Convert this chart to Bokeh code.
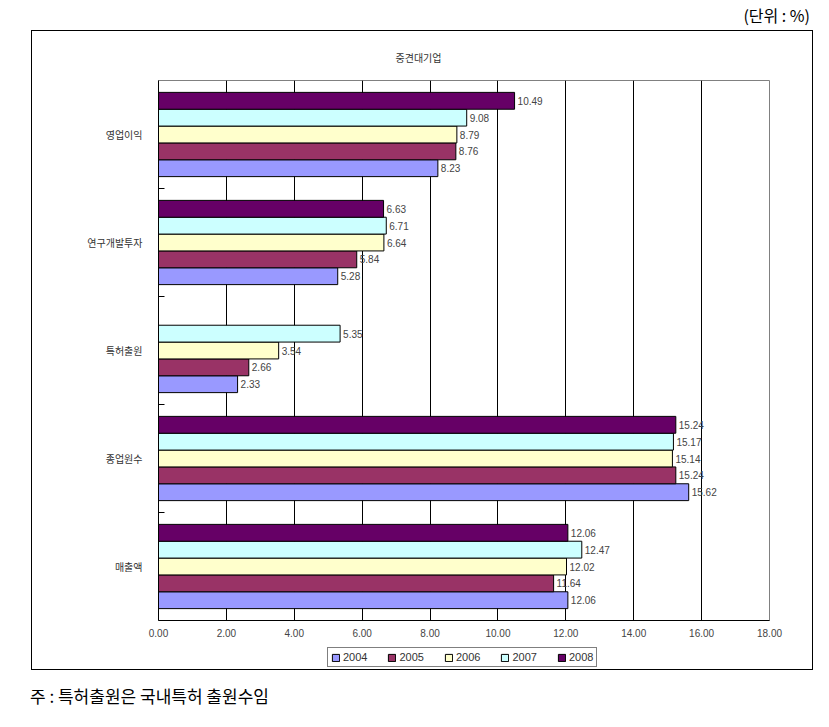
from bokeh.plotting import figure
from bokeh.models import (ColumnDataSource, Range1d, FixedTicker, NumeralTickFormatter,
                          Legend, LegendItem, Div, Column)
from bokeh.transform import dodge
from bokeh.core.properties import value
from bokeh.embed import file_html
from bokeh.resources import INLINE
import math

# ---- data (categories listed top to bottom as in the chart) ----
categories = ["영업이익", "연구개발투자", "특허출원", "종업원수", "매출액"]
years = ["2004", "2005", "2006", "2007", "2008"]
v2004 = [8.23, 5.28, 2.33, 15.62, 12.06]
v2005 = [8.76, 5.84, 2.66, 15.24, 11.64]
v2006 = [8.79, 6.64, 3.54, 15.14, 12.02]
v2007 = [9.08, 6.71, 5.35, 15.17, 12.47]
v2008 = [10.49, 6.63, float("nan"), 15.24, 12.06]
x_ticks = [0, 2, 4, 6, 8, 10, 12, 14, 16, 18]
title_text = "중견대기업"
unit_text = "(단위 : %)"
note_text = "주 : 특허출원은 국내특허 출원수임"

series = [v2004, v2005, v2006, v2007, v2008]
colors = ["#9999FF", "#993366", "#FFFFCC", "#CCFFFF", "#660066"]
bar_h = 0.156
offsets = [-2 * bar_h, -bar_h, 0.0, bar_h, 2 * bar_h]

n = len(categories)
ypos = [n - 1 - i for i in range(n)]  # top category gets highest position

NUMFONT = "Liberation Sans"
KFONT = "Noto Sans CJK KR"

p = figure(frame_width=611, frame_height=540, output_backend="svg", toolbar_location=None,
           x_range=Range1d(0, 18), y_range=Range1d(-0.5, n - 0.5),
           min_border_left=126, min_border_right=43, min_border_top=49, min_border_bottom=25,
           title=title_text)
p.outline_line_color = "#808080"
p.background_fill_color = "white"
p.border_fill_color = "white"
p.title.align = "left"
p.title.offset = 237
p.title.text_font = KFONT
p.title.text_font_size = "10px"
p.title.text_font_style = "normal"
p.title.text_color = "#333333"
p.title.standoff = 31

# legend-only strip below the chart; same sources and glyph styles, data kept out of view
lg = figure(width=780, height=24, output_backend="svg", toolbar_location=None,
            x_range=Range1d(0, 18), y_range=Range1d(100, 101), min_border=0)
lg.axis.visible = False
lg.grid.visible = False
lg.outline_line_color = None
lg.border_fill_color = "white"
lg.background_fill_color = "white"

items = []
for yr, vals, col, off in zip(years, series, colors, offsets):
    ys = [y for y, v in zip(ypos, vals) if not math.isnan(v)]
    vs = [v for v in vals if not math.isnan(v)]
    src = ColumnDataSource(dict(y=ys, v=vs, lab=["%.2f" % v for v in vs]))
    p.hbar(y=dodge("y", off), left=0, right="v", height=bar_h, source=src,
           fill_color=col, line_color="black", line_width=1)
    p.text(x="v", y=dodge("y", off), text="lab", source=src, x_offset=3,
           text_baseline="middle", text_align="left", text_font_size="10px",
           text_font=value(NUMFONT), text_color="#444444")
    r = lg.hbar(y=dodge("y", off), left=0, right="v", height=bar_h, source=src,
                fill_color=col, line_color="black", line_width=1)
    items.append(LegendItem(label=yr, renderers=[r]))

# axes
p.xaxis.ticker = FixedTicker(ticks=x_ticks)
p.xaxis.formatter = NumeralTickFormatter(format="0.00")
p.xaxis.major_tick_out = 0
p.xaxis.major_tick_in = 0
p.xaxis.minor_tick_out = 0
p.xaxis.minor_tick_in = 0
p.xaxis.axis_line_color = "black"
p.xaxis.major_label_text_font = NUMFONT
p.xaxis.major_label_text_font_size = "10px"
p.xaxis.major_label_text_color = "#444444"
p.xaxis.major_label_standoff = 8

p.yaxis.ticker = FixedTicker(ticks=ypos, minor_ticks=[i + 0.5 for i in range(n - 1)])
p.yaxis.major_label_overrides = {y: c for y, c in zip(ypos, categories)}
p.yaxis.major_tick_out = 0
p.yaxis.major_tick_in = 0
p.yaxis.minor_tick_in = 6
p.yaxis.minor_tick_out = 0
p.yaxis.minor_tick_line_color = "black"
p.yaxis.axis_line_color = "black"
p.yaxis.major_label_text_font = KFONT
p.yaxis.major_label_text_font_size = "10px"
p.yaxis.major_label_text_color = "#333333"
p.yaxis.major_label_standoff = 16

p.xgrid.ticker = FixedTicker(ticks=x_ticks[1:-1])
p.xgrid.grid_line_color = "black"
p.xgrid.grid_line_width = 1
p.ygrid.grid_line_color = None

legend = Legend(items=items, orientation="horizontal", location=(169, 2),
                label_text_font=NUMFONT, label_text_font_size="11px",
                label_text_color="#333333", glyph_width=9, glyph_height=9,
                label_standoff=3, spacing=20, padding=3, margin=0,
                border_line_color="black", border_line_width=1,
                label_height=9, background_fill_alpha=1)
lg.add_layout(legend)

chart_box = Column(children=[p, lg], spacing=0,
                   styles={"border": "1px solid black"},
                   margin=(0, 0, 0, 31))

unit_div = Div(text=unit_text, width=810, height=30,
               styles={"text-align": "right", "font-size": "16px",
                       "font-family": KFONT, "color": "black", "line-height": "18px",
                       "padding-top": "6px"},
               margin=(0, 0, 0, 0))
note_div = Div(text=note_text, width=400, height=24,
               styles={"font-size": "17px", "font-family": KFONT, "color": "black",
                       "line-height": "20px"},
               margin=(16, 0, 0, 30))

layout = Column(children=[unit_div, chart_box, note_div], spacing=0)

open("out.html", "w").write(file_html(layout, INLINE))
